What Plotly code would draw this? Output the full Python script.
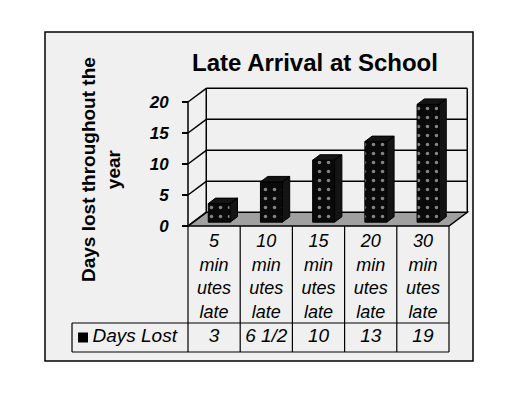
import plotly.graph_objects as go

# ---- data ----
categories = ["5<br>min<br>utes<br>late", "10<br>min<br>utes<br>late", "15<br>min<br>utes<br>late",
              "20<br>min<br>utes<br>late", "30<br>min<br>utes<br>late"]
value_labels = ["3", "6 1/2", "10", "13", "19"]
days_lost = [3, 6.5, 10, 13, 19]
series_name = "Days Lost"
y_ticks = [0, 5, 10, 15, 20]
title = "Late Arrival at School"
y_title = "Days lost throughout the<br>year"

FONT = "Liberation Sans, Arial, sans-serif"
OFF = 8  # page body margin

# ---- 3D layout parameters (axis units) ----
DX, DY = 0.35, 2.2          # depth offset of back wall
F0 = 0.28                   # bar front position in depth
BW = 0.42                   # bar width
BDF = 0.40                  # bar depth fraction
YMAX = y_ticks[-1]
n = len(days_lost)
XL, XR = -0.5, n - 0.5
R1, R2 = -15.645, -20.32    # table row bottoms
LX = -2.722                 # legend cell left

fig = go.Figure()
shapes = []
line = dict(color="black", width=1.5)

# floor
shapes.append(dict(type="path", xref="x", yref="y", layer="below",
                   path=f"M {XL},0 L {XR},0 L {XR+DX},{DY} L {XL+DX},{DY} Z",
                   fillcolor="#a0a0a0", line=line))
# back wall grid lines and edges
for v in y_ticks[1:]:
    shapes.append(dict(type="line", xref="x", yref="y", layer="below",
                       x0=XL + DX, x1=XR + DX, y0=v + DY, y1=v + DY, line=line))
for xx in (XL + DX, XR + DX):
    shapes.append(dict(type="line", xref="x", yref="y", layer="below",
                       x0=xx, x1=xx, y0=DY, y1=YMAX + DY, line=line))
# left wall diagonals and front edge
for v in y_ticks:
    shapes.append(dict(type="line", xref="x", yref="y", layer="below",
                       x0=XL, x1=XL + DX, y0=v, y1=v + DY, line=line))
shapes.append(dict(type="line", xref="x", yref="y", layer="below",
                   x0=XL, x1=XL, y0=0, y1=YMAX, line=line))
# data table grid
for k in range(n + 1):
    shapes.append(dict(type="line", xref="x", yref="y",
                       x0=XL + k, x1=XL + k, y0=0, y1=R2, line=dict(color="black", width=1.2)))
for yy in (R1, R2):
    shapes.append(dict(type="line", xref="x", yref="y",
                       x0=LX, x1=XR, y0=yy, y1=yy, line=dict(color="black", width=1.2)))
shapes.append(dict(type="line", xref="x", yref="y",
                   x0=LX, x1=LX, y0=R1, y1=R2, line=dict(color="black", width=1.2)))
# outer frame
shapes.append(dict(type="rect", xref="paper", yref="paper", x0=0, x1=1, y0=0, y1=1,
                   line=dict(color="black", width=1.5)))

# bar front faces
xs = [i + F0 * DX for i in range(n)]
fig.add_trace(go.Bar(
    x=xs, y=days_lost, base=F0 * DY, width=BW,
    marker=dict(color="#0a0a0a", line=dict(color="black", width=1),
                pattern=dict(shape=".", fgcolor="white", bgcolor="#0a0a0a",
                             size=9, solidity=0.12)),
    name=series_name, showlegend=False, hoverinfo="skip"))

# bar tops and sides
bdx, bdy = BDF * DX, BDF * DY
px, py = [], []
for xc, v in zip(xs, days_lost):
    x0, x1 = xc - BW / 2, xc + BW / 2
    b, t = F0 * DY, F0 * DY + v
    px += [x0, x1, x1 + bdx, x0 + bdx, x0, None]
    py += [t, t, t + bdy, t + bdy, t, None]
    px += [x1, x1, x1 + bdx, x1 + bdx, x1, None]
    py += [b, t, t + bdy, b + bdy, b, None]
fig.add_trace(go.Scatter(x=px, y=py, mode="lines", fill="toself",
                         fillcolor="#141414", line=dict(color="#000000", width=1),
                         showlegend=False, hoverinfo="skip"))

# table texts
tfont = dict(family=FONT, size=19, color="black", style="italic")
cfont = dict(family=FONT, size=18, color="black", style="italic")
fig.add_trace(go.Scatter(x=list(range(n)), y=[-8.4] * n, mode="text",
                         text=categories, textfont=cfont, showlegend=False, hoverinfo="skip"))
fig.add_trace(go.Scatter(x=list(range(n)), y=[(R1 + R2) / 2] * n, mode="text",
                         text=value_labels, textfont=tfont, showlegend=False, hoverinfo="skip"))
fig.add_trace(go.Scatter(x=[-2.511], y=[(R1 + R2) / 2], mode="markers",
                         marker=dict(symbol="square", size=10, color="black"),
                         showlegend=False, hoverinfo="skip"))
fig.add_trace(go.Scatter(x=[-2.33], y=[(R1 + R2) / 2], mode="text", text=[series_name],
                         textposition="middle right", textfont=tfont,
                         showlegend=False, hoverinfo="skip"))

fig.update_layout(
    width=508, height=393,
    margin=dict(l=45 - OFF, r=35 + OFF, t=32 - OFF, b=32 + OFF),
    paper_bgcolor="white", plot_bgcolor="#f0f0f0",
    showlegend=False,
    shapes=shapes,
    title=dict(text=title, x=(315 - OFF) / 508, xanchor="center", y=1 - (63 - OFF) / 393,
               yanchor="middle",
               font=dict(family=FONT, size=24, color="black", weight="bold")),
    xaxis=dict(range=[-3.2395, 4.9598], visible=False, fixedrange=True),
    yaxis=dict(range=[-21.774, 31.290], anchor="free", position=(188 - 45) / 428,
               tickvals=y_ticks, ticks="outside", ticklen=6, tickwidth=1.5, tickcolor="black",
               showgrid=False, zeroline=False, showline=False, ticklabelstandoff=10,
               tickfont=dict(family=FONT, size=17, color="black", weight="bold", style="italic"),
               fixedrange=True),
    annotations=[dict(text=y_title, xref="paper", yref="paper", x=(101 - 45) / 428,
                      y=(361 - 170) / 329, textangle=-90, showarrow=False,
                      xanchor="center", yanchor="middle",
                      font=dict(family=FONT, size=19, color="black", weight="bold"))],
)

fig.write_html("out.html")
